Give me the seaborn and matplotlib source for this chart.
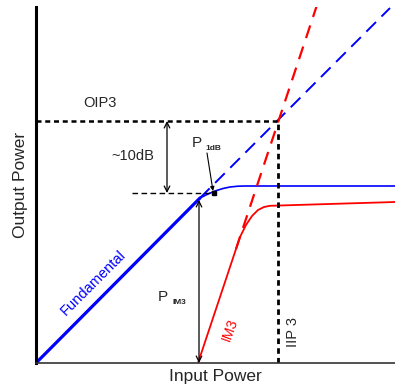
import numpy as np
import pandas as pd
import matplotlib
matplotlib.use("Agg")
import matplotlib.pyplot as plt
import seaborn as sns

# schematic values, output vs input power (arbitrary dB units)
fund_x = [0.0, 16.4]
fund_y = [0.0, 16.5]
fund_comp_x = [16.4, 17.2, 17.9, 18.7, 19.4, 20.2, 20.9, 35.9]
fund_comp_y = [16.5, 16.9, 17.2, 17.45, 17.6, 17.68, 17.7, 17.7]
fund_ext_x = [16.4, 35.4]
fund_ext_y = [16.5, 35.5]

im3_x = [16.2, 20.4, 21.0, 21.6, 22.2, 22.8, 23.4, 35.9]
im3_y = [0.0, 12.6, 13.8, 14.7, 15.3, 15.6, 15.72, 16.1]
im3_ext_x = [20.0, 28.1]
im3_ext_y = [11.4, 35.8]

iip3 = 24.2
oip3 = 24.2
p1db_in, p1db_out = 17.8, 17.0
pim3_in, pim3_top = 16.3, 16.3

sns.set_style("white")
plt.rcParams['font.family'] = ['Liberation Sans', 'DejaVu Sans']

fig = plt.figure(figsize=(3.95, 3.9), dpi=100)
ax = fig.add_axes([36/395, 27/390, 359/395, 356/390])

blue = "#0000ff"
red = "#ff0000"

sns.lineplot(x=fund_x, y=fund_y, sort=False, color=blue, lw=2.3, ax=ax)
sns.lineplot(x=fund_comp_x, y=fund_comp_y, sort=False, color=blue, lw=1.2, ax=ax)
sns.lineplot(x=fund_ext_x, y=fund_ext_y, sort=False, color=blue, lw=1.4, ax=ax)
ax.lines[-1].set_dashes([7, 4])

sns.lineplot(x=im3_x, y=im3_y, sort=False, color=red, lw=1.3, ax=ax)
sns.lineplot(x=im3_ext_x, y=im3_ext_y, sort=False, color=red, lw=1.6, ax=ax)
ax.lines[-1].set_dashes([6, 4])

# intercept lines
ax.plot([0, iip3], [oip3, oip3], color="black", lw=1.8, dashes=[2, 1.5])
ax.plot([iip3, iip3], [0, oip3], color="black", lw=2.0, dashes=[2, 1.5])
ax.plot([9.6, p1db_in], [p1db_out, p1db_out], color="black", lw=1.0, dashes=[4, 2.5])
ax.plot([p1db_in], [p1db_out], marker="s", ms=3, color="black")

# ~10dB arrow
ax.annotate("", xy=(13.1, oip3), xytext=(13.1, p1db_out),
            arrowprops=dict(arrowstyle="<->", color="black", lw=0.9,
                            shrinkA=0, shrinkB=0))
ax.text(9.7, 20.7, "~10dB", fontsize=10.5, ha="center", va="center")

# P1dB label
ax.annotate("", xy=(p1db_in - 0.1, p1db_out + 0.2), xytext=(17.1, 21.0),
            arrowprops=dict(arrowstyle="-|>", color="black", lw=0.8,
                            mutation_scale=6, shrinkA=0, shrinkB=0))
ax.text(16.1, 22.0, "P", fontsize=11, ha="center", va="center")
ax.text(17.7, 21.5, "1dB", fontsize=6, fontweight="bold", ha="center", va="center")

# PIM3 arrow
ax.annotate("", xy=(pim3_in, pim3_top), xytext=(pim3_in, 0),
            arrowprops=dict(arrowstyle="<->", color="black", lw=0.9,
                            shrinkA=0, shrinkB=0))
ax.text(12.7, 6.6, "P", fontsize=11, ha="center", va="center")
ax.text(14.3, 6.1, "IM3", fontsize=6, fontweight="bold", ha="center", va="center")

ax.text(6.4, 26.0, "OIP3", fontsize=10.5, ha="center", va="center")
ax.text(5.7, 8.0, "Fundamental", fontsize=10.5, color=blue, rotation=45,
        ha="center", va="center", rotation_mode="anchor")
ax.text(19.4, 3.3, "IM3", fontsize=10, color=red, rotation=70,
        ha="center", va="center", rotation_mode="anchor")
ax.text(25.7, 3.1, "IIP 3", fontsize=10.5, rotation=90, ha="center", va="center")

ax.set_xlim(0, 35.9)
ax.set_ylim(0, 35.6)
ax.set_xticks([])
ax.set_yticks([])
ax.set_xlabel("Input Power", fontsize=12.5, labelpad=4)
ax.set_ylabel("Output Power", fontsize=12.5, labelpad=6)
sns.despine(ax=ax)
ax.spines["left"].set_linewidth(2.2)
ax.spines["left"].set_color("black")
ax.spines["bottom"].set_linewidth(1.2)
ax.spines["bottom"].set_color("#333333")

fig.savefig("out.png", dpi=100)
